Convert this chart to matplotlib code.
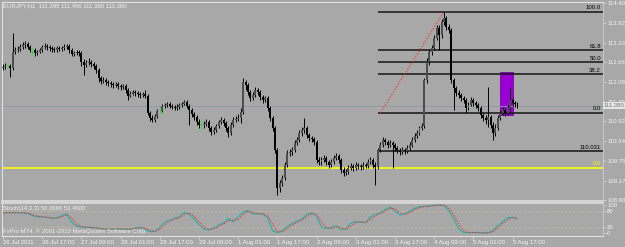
import numpy as np
import pandas as pd
import matplotlib
matplotlib.use("Agg")
import matplotlib.pyplot as plt
import matplotlib.transforms as mtransforms
from matplotlib.patches import Rectangle

plt.rcParams['font.family'] = ['Liberation Sans', 'DejaVu Sans']

# EURJPY H1 bars, open of each bar = previous close
first_open = 112.49
closes = [
    112.52, 112.55, 112.55, 112.49, 112.96, 113.02, 113.05, 113.11, 113.17, 113.20,
    113.11, 113.02, 113.02, 112.93, 112.96, 113.02, 113.11, 113.14, 113.11, 113.08,
    113.05, 113.02, 113.08, 113.05, 113.08, 113.11, 113.14, 113.02, 112.90, 112.93,
    112.96, 112.93, 112.67, 112.58, 112.64, 112.67, 112.61, 112.55, 112.43, 112.20,
    112.11, 112.14, 112.08, 112.05, 112.02, 111.99, 112.02, 111.96, 111.93, 111.96,
    111.84, 111.67, 111.72, 111.78, 111.75, 111.72, 111.69, 111.72, 111.67, 111.16,
    111.02, 110.96, 111.08, 111.22, 111.22, 111.37, 111.40, 111.43, 111.37, 111.34,
    111.31, 111.34, 111.40, 111.43, 111.49, 111.37, 111.25, 111.14, 111.05, 110.90,
    110.81, 110.81, 110.84, 110.90, 110.72, 110.60, 110.66, 110.78, 110.90, 110.96,
    110.87, 110.72, 110.58, 110.81, 110.96, 110.99, 111.02, 111.19, 112.08, 111.99,
    111.78, 111.61, 111.69, 111.84, 111.78, 111.64, 111.55, 111.61, 111.31, 111.02,
    110.72, 110.07, 108.95, 109.10, 109.25, 109.63, 109.99, 110.01, 110.07, 110.28,
    110.37, 110.58, 110.66, 110.72, 110.52, 110.43, 110.40, 110.31, 109.78, 109.72,
    109.78, 109.84, 109.72, 109.63, 109.72, 109.84, 109.90, 109.78, 109.48, 109.40,
    109.43, 109.54, 109.60, 109.54, 109.63, 109.60, 109.57, 109.63, 109.60, 109.72,
    109.78, 109.63, 109.57, 110.07, 110.22, 110.37, 110.31, 110.22, 110.28, 110.22,
    110.13, 110.07, 110.01, 110.07, 110.04, 110.13, 110.22, 110.37, 110.49, 110.58,
    110.72, 110.78, 112.14, 112.67, 112.96, 113.08, 113.37, 113.67, 113.46, 113.85,
    113.96, 113.70, 113.61, 112.14, 111.90, 111.75, 111.69, 111.61, 111.55, 111.31,
    111.40, 111.55, 111.46, 111.40, 111.31, 111.11, 111.02, 110.96, 111.05, 110.81,
    110.58, 110.72, 111.02, 111.16, 111.25, 111.16, 111.31, 111.55, 111.46, 111.43,
    111.38,
]
highs = [
    112.61, 112.64, 112.61, 112.61, 113.52, 113.11, 113.14, 113.20, 113.26, 113.29,
    113.26, 113.17, 113.08, 113.08, 113.02, 113.08, 113.17, 113.23, 113.20, 113.17,
    113.14, 113.11, 113.14, 113.14, 113.14, 113.20, 113.20, 113.20, 113.08, 112.99,
    113.02, 113.02, 112.99, 112.76, 112.73, 112.79, 112.73, 112.67, 112.61, 112.49,
    112.25, 112.22, 112.20, 112.14, 112.11, 112.08, 112.08, 112.08, 112.02, 112.02,
    112.02, 111.90, 111.81, 111.84, 111.84, 111.81, 111.78, 111.78, 111.84, 111.72,
    111.22, 111.11, 111.14, 111.28, 111.34, 111.43, 111.46, 111.49, 111.49, 111.43,
    111.40, 111.43, 111.46, 111.49, 111.55, 111.55, 111.43, 111.31, 111.19, 111.11,
    110.99, 110.96, 110.93, 110.99, 110.96, 110.78, 110.75, 110.84, 110.96, 111.05,
    111.02, 110.93, 110.78, 110.90, 111.05, 111.08, 111.14, 111.31, 112.20, 112.14,
    112.05, 111.84, 111.78, 111.93, 111.90, 111.84, 111.69, 111.67, 111.67, 111.37,
    111.08, 110.78, 110.13, 109.19, 109.34, 109.72, 110.07, 110.10, 110.16, 110.37,
    110.46, 110.66, 110.75, 111.02, 110.78, 110.58, 110.49, 110.46, 110.37, 109.87,
    109.87, 109.93, 109.90, 109.78, 109.81, 109.93, 109.99, 109.96, 109.84, 109.57,
    109.51, 109.63, 109.69, 109.66, 109.72, 109.69, 109.66, 109.72, 109.69, 109.81,
    109.87, 109.84, 109.72, 110.13, 110.31, 110.46, 110.43, 110.37, 110.37, 110.34,
    110.28, 110.19, 110.13, 110.16, 110.13, 110.22, 110.31, 110.46, 110.58, 110.66,
    110.78, 110.87, 112.20, 112.79, 113.05, 113.17, 113.46, 113.76, 113.76, 113.93,
    114.14, 114.02, 113.79, 113.67, 112.20, 111.96, 111.84, 111.75, 111.67, 111.61,
    111.49, 111.64, 111.61, 111.52, 111.46, 111.37, 111.16, 111.11, 111.93, 111.11,
    110.90, 110.84, 111.11, 111.25, 111.34, 111.31, 111.40, 111.93, 111.61, 111.52,
    111.49,
]
lows = [
    112.43, 112.46, 112.49, 112.22, 112.43, 112.90, 112.96, 112.99, 113.05, 113.08,
    113.05, 112.96, 112.87, 112.84, 112.87, 112.93, 112.96, 113.05, 113.02, 112.99,
    112.96, 112.96, 112.96, 112.99, 112.99, 113.02, 113.05, 112.93, 112.84, 112.84,
    112.87, 112.84, 112.55, 112.28, 112.52, 112.58, 112.52, 112.46, 112.34, 112.08,
    112.02, 112.05, 111.99, 111.96, 111.93, 111.90, 111.93, 111.87, 111.84, 111.87,
    111.75, 111.55, 111.64, 111.69, 111.67, 111.64, 111.61, 111.64, 111.61, 111.11,
    110.93, 110.90, 110.90, 111.02, 111.14, 111.19, 111.31, 111.34, 111.31, 111.28,
    111.25, 111.25, 111.28, 111.34, 111.40, 111.31, 110.81, 111.05, 110.96, 110.81,
    110.72, 110.66, 110.72, 110.78, 110.63, 110.52, 110.55, 110.60, 110.72, 110.84,
    110.78, 110.63, 110.46, 110.52, 110.75, 110.90, 110.93, 110.87, 111.14, 111.84,
    111.69, 111.52, 111.55, 111.64, 111.69, 111.55, 111.46, 111.49, 111.22, 110.93,
    110.63, 109.99, 108.75, 108.84, 109.01, 109.19, 109.57, 109.90, 109.93, 110.01,
    110.22, 110.31, 110.49, 110.58, 110.43, 110.34, 110.31, 110.22, 109.69, 109.63,
    109.63, 109.72, 109.63, 109.54, 109.57, 109.66, 109.78, 109.69, 109.40, 109.31,
    109.34, 109.37, 109.48, 109.45, 109.48, 109.51, 109.48, 109.51, 109.54, 109.54,
    109.66, 109.54, 109.04, 109.51, 110.01, 110.16, 110.22, 110.13, 110.16, 109.54,
    110.04, 109.99, 109.93, 109.96, 109.96, 109.99, 110.07, 110.16, 110.31, 110.43,
    110.52, 110.66, 110.72, 112.05, 112.58, 112.87, 113.02, 113.32, 113.02, 113.37,
    113.76, 113.61, 113.52, 112.05, 111.25, 111.67, 111.61, 111.52, 111.46, 111.16,
    111.25, 111.37, 111.37, 111.31, 111.22, 111.02, 110.93, 110.84, 110.75, 110.72,
    110.37, 110.49, 110.66, 110.96, 111.11, 111.08, 111.11, 111.22, 111.37, 111.34,
    111.31,
]

# Stochastic(14,3,3) main line, read every second bar
stoch_main = [
    72, 73, 72, 73, 72, 70, 62, 58, 58, 55, 53, 54, 62, 68, 40, 24, 22, 20, 20, 18,
    15, 14, 14, 14, 15, 14, 14, 18, 21, 14, 5, 6, 20, 38, 46, 52, 58, 74, 68, 50,
    30, 14, 11, 18, 28, 36, 52, 40, 58, 75, 80, 68, 69, 68, 55, 8, 1, 8, 23, 34,
    42, 50, 66, 72, 60, 20, 17, 18, 26, 12, 15, 35, 40, 39, 37, 58, 66, 72, 84, 92,
    80, 64, 68, 78, 88, 93, 95, 96, 99, 100, 98, 80, 50, 15, 2, 1, 2, 1, 0, 1,
    8, 28, 40, 55, 56, 50,
]

time_labels = ["26 Jul 2011", "26 Jul 17:00", "27 Jul 09:00", "28 Jul 01:00", "28 Jul 17:00",
               "29 Jul 09:00", "1 Aug 01:00", "1 Aug 17:00", "2 Aug 09:00", "3 Aug 01:00",
               "3 Aug 17:00", "4 Aug 09:00", "5 Aug 01:00", "5 Aug 17:00"]
price_ticks = [114.405, 113.820, 113.235, 112.665, 112.080, 111.495,
               110.925, 110.340, 109.755, 109.170, 108.600]

# objects drawn on the chart
fib_low, fib_high = 111.17, 114.15
fib_start, fib_end = 154, 180
fib_ratios = [1.0, 0.618, 0.5, 0.382, 0.0, -0.382]
fib_texts = ["100.0", "61.8", "50.0", "38.2", "0.0", "110.031"]
yellow_level = 109.55
bid = 111.38
box_left, box_right = 202.9, 208.2
box_bottom, box_top = 111.11, 112.37

bg = "#a8a8a8"
txt = "#f2f2f2"
fs = 4.3

closes = np.array(closes)
opens = np.concatenate([[first_open], closes[:-1]])
highs = np.array(highs)
lows = np.array(lows)
idx = np.arange(len(closes))
xmin, xmax = -0.41, 244.9

fig = plt.figure(figsize=(6.25, 2.47), dpi=100, facecolor=bg)
ax = fig.add_axes([2 / 625, 1 - 201 / 247, 601 / 625, 199 / 247], facecolor=bg)
sub = fig.add_axes([2 / 625, 1 - 236 / 247, 601 / 625, 33 / 247], facecolor=bg)

# candles
doji = np.abs(opens - closes) < 0.005
bull = closes > opens
wick_col = np.where(doji, "#2ee02e", "black")
body_col = np.where(doji, "#2ee02e", np.where(bull, "#4e4e4e", "black"))
ax.add_patch(Rectangle((box_left, box_bottom), box_right - box_left, box_top - box_bottom,
                       facecolor="#9a00d4", edgecolor="#7a00b0", lw=0.6, zorder=1))
ax.vlines(idx, lows, highs, colors=wick_col, lw=0.7, zorder=3)
ax.bar(idx, np.maximum(np.abs(closes - opens), 0.015), bottom=np.minimum(opens, closes),
       width=0.8, color=body_col, linewidth=0, zorder=3)

# horizontal lines
ax.axhline(bid, color="#8b9ba0", lw=0.6, zorder=2)
ax.axhline(yellow_level, color="#ffff00", lw=1.2, zorder=2)
trans = mtransforms.blended_transform_factory(ax.transAxes, ax.transData)
ax.text(0.9967, yellow_level + 0.06, "0.0", transform=trans, ha="right", va="bottom",
        fontsize=fs, color="#ffff00")

fib_levels = [fib_low + r * (fib_high - fib_low) for r in fib_ratios]
ax.hlines(fib_levels, fib_start - 0.8, xmax, color="#151515", lw=1.1, zorder=2)
for lvl, lab in zip(fib_levels, fib_texts):
    ax.text(0.9967, lvl + 0.04, lab, transform=trans, ha="right", va="bottom",
            fontsize=fs, color="black")
ax.plot([fib_start, fib_end], [fib_low, fib_high], color="#ff2a2a", ls=(0, (1.2, 1.5)),
        lw=0.8, zorder=2)

ax.text(0.002, 0.992, "EURJPY,H1  111.395 111.456 111.380 111.380", transform=ax.transAxes,
        ha="left", va="top", fontsize=fs, color=txt)

ax.set_xlim(xmin, xmax)
ax.set_ylim(108.571, 114.434)
ax.set_xticks([])
ax.yaxis.tick_right()
ax.set_yticks(price_ticks)
ax.set_yticklabels([f"{p:.3f}" for p in price_ticks])
ax.tick_params(axis="y", direction="out", length=2, width=0.5, pad=1,
               colors="#dcdcdc", labelcolor=txt, labelsize=fs)
ax.text(1.0017, bid, f"{bid:.3f}", transform=trans, ha="left", va="center", fontsize=fs,
        color="#7a7a7a", bbox=dict(boxstyle="square,pad=0.15", fc="#e4e4e4", ec="none"))

for name, sp in ax.spines.items():
    sp.set_color("#e6e6e6")
    sp.set_linewidth(0.7)
ax.spines["bottom"].set_color("#dadada")
ax.spines["bottom"].set_linewidth(1.3)
ax.spines["right"].set_color("#c8c8c8")

# stochastic window
stoch_x = idx[::2]
k = pd.Series(stoch_main, dtype=float)
d = k.rolling(2, min_periods=1).mean()
for lvl in (20, 80):
    sub.axhline(lvl, color="#cbbd98", lw=0.6, ls=(0, (2.5, 2.5)))
sub.plot(stoch_x, k, color="#20b2aa", lw=0.8)
sub.plot(stoch_x, d, color="#ff2a2a", lw=0.8, ls=(0, (1.2, 1.5)))
sub.text(0.002, 0.82, "Stoch(14,3,3) 50.3666 53.4600", transform=sub.transAxes,
         ha="left", va="center", fontsize=fs, color=txt)
sub.text(0.002, 0.15, "FxPro MT4, \u00a9 2001-2010 MetaQuotes Software Corp.",
         transform=sub.transAxes, ha="left", va="center", fontsize=fs, color=txt)

sub.set_xlim(xmin, xmax)
sub.set_ylim(-10.7, 107.1)
sub.yaxis.tick_right()
sub.set_yticks([0, 20, 80, 100])
sub.set_yticklabels(["0", "20", "80", "100"])
sub.tick_params(axis="y", direction="out", length=2, width=0.5, pad=1,
                colors="#dcdcdc", labelcolor=txt, labelsize=fs)
sub.set_xticks(idx[::16][:len(time_labels)])
sub.set_xticklabels(time_labels, ha="left")
sub.tick_params(axis="x", direction="out", length=2, width=0.5, pad=1,
                colors="#dcdcdc", labelcolor=txt, labelsize=fs)
for name, sp in sub.spines.items():
    sp.set_color("#e6e6e6")
    sp.set_linewidth(0.7)
sub.spines["top"].set_color("#dadada")
sub.spines["top"].set_linewidth(1.3)
sub.spines["right"].set_color("#c8c8c8")

fig.savefig("out.png", dpi=100, facecolor=bg)
